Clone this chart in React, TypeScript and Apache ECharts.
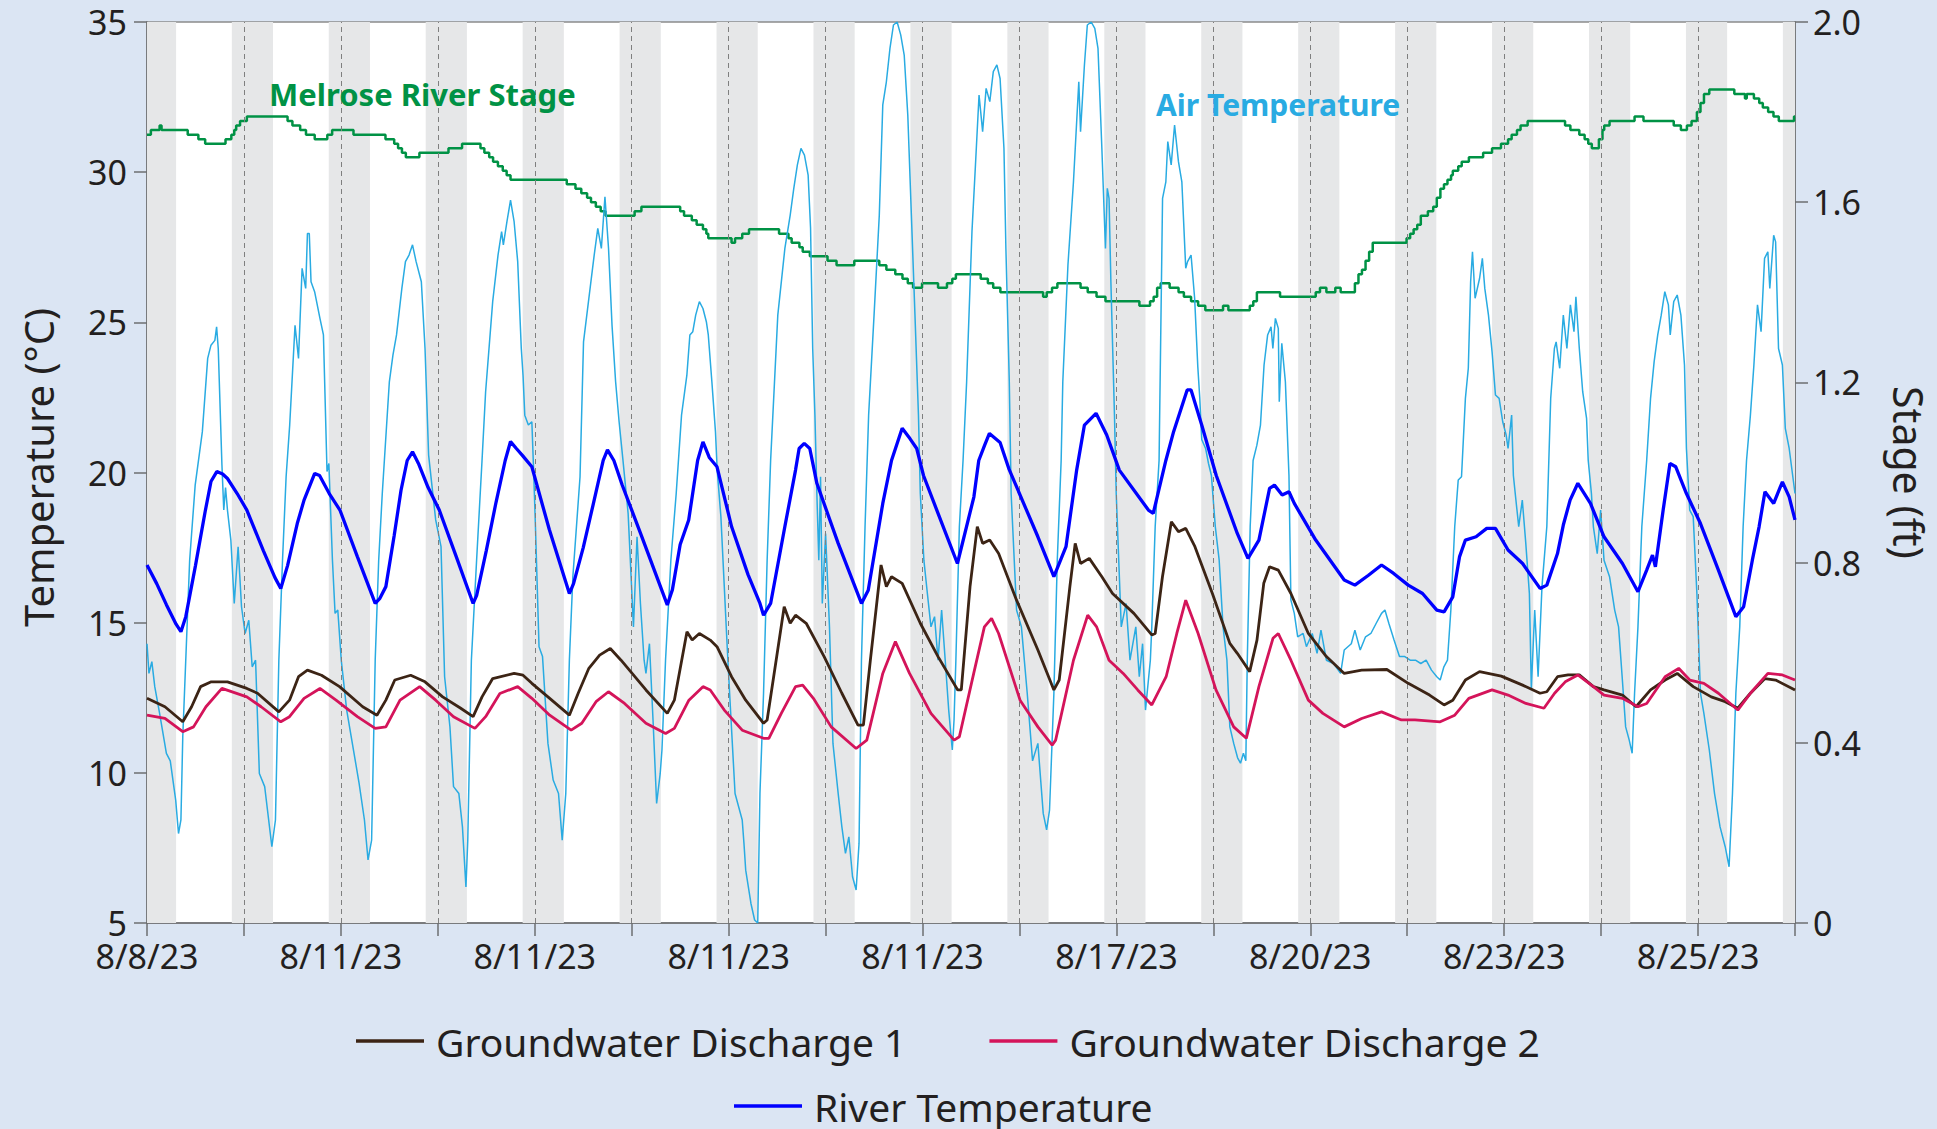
import React, { useEffect, useRef } from "react";
import * as echarts from "echarts";

const FONT = "'Noto Sans', 'Open Sans', sans-serif";
const TEXT = "#231f20";
const AXIS = "#6d6e71";

// x axis: days since 8/8/23 00:00
const X_LABELS = ["8/8/23", "8/11/23", "8/11/23", "8/11/23", "8/11/23", "8/17/23", "8/20/23", "8/23/23", "8/25/23"];
const MIDNIGHTS = [1, 2, 3, 4, 5, 6, 7, 8, 9, 10, 11, 12, 13, 14, 15, 16];
const NIGHTS: [number, number][] = [
  [0, 0.3], [0.875, 1.3], [1.875, 2.3], [2.875, 3.3], [3.875, 4.3], [4.875, 5.3],
  [5.875, 6.3], [6.875, 7.3], [7.875, 8.3], [8.875, 9.3], [9.875, 10.3], [10.875, 11.3],
  [11.875, 12.3], [12.875, 13.3], [13.875, 14.3], [14.875, 15.3], [15.875, 16.3], [16.875, 17],
];

// Melrose River Stage (ft), step changes [day, stage]
const STAGE: [number, number][] = [
  [0, 1.75], [0.04, 1.76], [0.13, 1.77], [0.15, 1.76], [0.42, 1.75], [0.53, 1.74], [0.6, 1.73], [0.81, 1.74],
  [0.87, 1.75], [0.9, 1.76], [0.92, 1.77], [0.96, 1.78], [1.03, 1.79], [1.45, 1.78], [1.5, 1.77], [1.58, 1.76],
  [1.64, 1.75], [1.73, 1.74], [1.86, 1.75], [1.91, 1.76], [2.13, 1.75], [2.46, 1.74], [2.55, 1.73], [2.59, 1.72],
  [2.63, 1.71], [2.67, 1.7], [2.81, 1.71], [3.11, 1.72], [3.25, 1.73], [3.44, 1.72], [3.48, 1.71], [3.53, 1.7],
  [3.57, 1.69], [3.62, 1.68], [3.67, 1.67], [3.71, 1.66], [3.75, 1.65], [4.33, 1.64], [4.42, 1.63], [4.48, 1.62],
  [4.54, 1.61], [4.58, 1.6], [4.63, 1.59], [4.68, 1.58], [4.73, 1.57], [5.03, 1.58], [5.1, 1.59], [5.5, 1.58],
  [5.54, 1.57], [5.62, 1.56], [5.67, 1.55], [5.735, 1.54], [5.77, 1.53], [5.79, 1.52], [6.03, 1.51], [6.066, 1.52],
  [6.14, 1.53], [6.21, 1.54], [6.52, 1.53], [6.617, 1.52], [6.65, 1.51], [6.73, 1.5], [6.764, 1.49], [6.838, 1.48],
  [7.02, 1.47], [7.113, 1.46], [7.296, 1.47], [7.554, 1.46], [7.627, 1.45], [7.719, 1.44], [7.793, 1.43], [7.848, 1.42],
  [7.903, 1.41], [7.995, 1.42], [8.16, 1.41], [8.252, 1.42], [8.307, 1.43], [8.344, 1.44], [8.6, 1.43], [8.674, 1.42],
  [8.729, 1.41], [8.803, 1.4], [9.244, 1.39], [9.281, 1.4], [9.336, 1.41], [9.391, 1.42], [9.63, 1.41], [9.704, 1.4],
  [9.795, 1.39], [9.887, 1.38], [10.237, 1.37], [10.347, 1.38], [10.384, 1.39], [10.42, 1.41], [10.457, 1.42],
  [10.549, 1.41], [10.641, 1.4], [10.696, 1.39], [10.77, 1.38], [10.843, 1.37], [10.917, 1.36], [11.1, 1.37],
  [11.155, 1.36], [11.376, 1.37], [11.412, 1.38], [11.449, 1.4], [11.688, 1.39], [12.056, 1.4], [12.1, 1.41],
  [12.166, 1.4], [12.258, 1.41], [12.313, 1.4], [12.46, 1.42], [12.497, 1.44], [12.533, 1.45], [12.57, 1.47],
  [12.607, 1.49], [12.644, 1.51], [12.993, 1.52], [13.03, 1.53], [13.066, 1.54], [13.103, 1.55], [13.14, 1.57],
  [13.213, 1.58], [13.268, 1.59], [13.305, 1.61], [13.342, 1.63], [13.379, 1.64], [13.415, 1.65], [13.452, 1.66],
  [13.47, 1.67], [13.526, 1.68], [13.562, 1.69], [13.636, 1.7], [13.783, 1.71], [13.875, 1.72], [13.967, 1.73],
  [14.04, 1.74], [14.077, 1.75], [14.132, 1.76], [14.169, 1.77], [14.242, 1.78], [14.628, 1.77], [14.683, 1.76],
  [14.775, 1.75], [14.83, 1.74], [14.867, 1.73], [14.904, 1.72], [14.977, 1.74], [15.014, 1.76], [15.032, 1.77],
  [15.087, 1.78], [15.345, 1.79], [15.437, 1.78], [15.749, 1.77], [15.823, 1.76], [15.885, 1.77], [15.933, 1.78],
  [15.988, 1.8], [16.025, 1.82], [16.061, 1.84], [16.116, 1.85], [16.374, 1.84], [16.484, 1.83], [16.502, 1.84],
  [16.576, 1.83], [16.631, 1.82], [16.668, 1.81], [16.723, 1.8], [16.778, 1.79], [16.833, 1.78], [16.99, 1.79], [17, 1.79],
];

// Air temperature (°C)
const AIR: [number, number][] = [
  [0, 14.3], [0.02, 13.31], [0.05, 13.7], [0.08, 12.87], [0.13, 11.98], [0.2, 10.65], [0.24, 10.4], [0.296, 9.09],
  [0.325, 7.98], [0.35, 8.43], [0.369, 11.2], [0.44, 17.08], [0.497, 19.58], [0.571, 21.36], [0.626, 23.8], [0.66, 24.24],
  [0.7, 24.4], [0.718, 24.85], [0.735, 24.13], [0.773, 20.25], [0.792, 18.75], [0.81, 19.5], [0.83, 18.75], [0.865, 17.75],
  [0.9, 15.64], [0.94, 17.53], [0.975, 15.53], [1.012, 14.64], [1.05, 15.08], [1.085, 13.53], [1.12, 13.75], [1.159, 9.98],
  [1.214, 9.54], [1.288, 7.54], [1.325, 8.43], [1.36, 13.75], [1.398, 17.08], [1.435, 19.86], [1.472, 21.58], [1.527, 24.9],
  [1.563, 23.8], [1.6, 26.8], [1.637, 26.13], [1.655, 27.96], [1.674, 27.96], [1.692, 26.35], [1.729, 26.02], [1.784, 25.13],
  [1.82, 24.58], [1.857, 20.03], [1.876, 20.3], [1.913, 17.08], [1.94, 15.31], [1.968, 15.42], [2.004, 13.75], [2.06, 12.09],
  [2.13, 10.76], [2.188, 9.65], [2.243, 8.43], [2.28, 7.1], [2.317, 7.76], [2.354, 13.75], [2.39, 17.08], [2.427, 19.3],
  [2.5, 23.02], [2.537, 23.91], [2.574, 24.58], [2.629, 26.13], [2.666, 27.02], [2.703, 27.24], [2.739, 27.58], [2.776, 27.02],
  [2.83, 26.35], [2.868, 24.13], [2.905, 20.58], [2.978, 18.42], [3.033, 17.53], [3.07, 13.2], [3.125, 11.53], [3.162, 9.54],
  [3.217, 9.31], [3.254, 8.2], [3.29, 6.2], [3.309, 7.76], [3.346, 13.75], [3.4, 17.08], [3.456, 20.4], [3.493, 22.69],
  [3.566, 25.69], [3.621, 27.24], [3.658, 28.02], [3.676, 27.58], [3.713, 28.35], [3.75, 29.07], [3.787, 28.35], [3.824, 27.02],
  [3.861, 24.13], [3.879, 23.24], [3.897, 21.91], [3.934, 21.58], [3.97, 21.69], [3.99, 19.9], [4.007, 18.2], [4.044, 14.2],
  [4.08, 13.87], [4.136, 10.98], [4.19, 9.76], [4.245, 9.31], [4.283, 7.76], [4.32, 9.31], [4.357, 13.75], [4.393, 16.53],
  [4.467, 19.86], [4.503, 24.35], [4.558, 25.8], [4.613, 27.24], [4.65, 28.13], [4.687, 27.46], [4.724, 29.18], [4.761, 27.46],
  [4.797, 24.9], [4.834, 23.02], [4.87, 21.69], [4.908, 20.47], [4.963, 18.64], [5.018, 14.86], [5.055, 17.86], [5.09, 15.64],
  [5.128, 13.75], [5.147, 13.31], [5.183, 14.3], [5.22, 11.76], [5.257, 8.98], [5.294, 9.98], [5.312, 10.76], [5.349, 13.75],
  [5.404, 17.08], [5.459, 19.3], [5.514, 21.91], [5.569, 23.24], [5.6, 24.58], [5.63, 24.69], [5.66, 25.24], [5.698, 25.69],
  [5.735, 25.46], [5.77, 25.02], [5.79, 24.58], [5.827, 23.02], [5.864, 21.36], [5.882, 20.08], [5.92, 18.53], [5.955, 16.2],
  [5.985, 14.2], [6.01, 12.65], [6.066, 9.31], [6.14, 8.43], [6.158, 7.65], [6.176, 6.76], [6.23, 5.65], [6.268, 5.1],
  [6.3, 5.0], [6.323, 9.31], [6.36, 12.65], [6.397, 17.08], [6.433, 20.4], [6.507, 25.24], [6.58, 27.46], [6.635, 28.57],
  [6.672, 29.46], [6.709, 30.24], [6.746, 30.79], [6.782, 30.57], [6.82, 29.9], [6.845, 28.13], [6.867, 24.13], [6.89, 21.91],
  [6.91, 19.3], [6.93, 17.08], [6.948, 19.86], [6.966, 15.64], [7.0, 17.97], [7.04, 14.86], [7.076, 10.98], [7.13, 9.31],
  [7.168, 8.2], [7.205, 7.32], [7.24, 7.87], [7.278, 6.54], [7.315, 6.1], [7.345, 7.65], [7.37, 13.75], [7.407, 18.2],
  [7.444, 21.91], [7.5, 25.24], [7.554, 28.57], [7.59, 32.24], [7.627, 33.01], [7.664, 34.12], [7.7, 34.9], [7.738, 35.0],
  [7.775, 34.57], [7.811, 33.9], [7.848, 31.9], [7.885, 28.57], [7.922, 25.24], [7.958, 21.91], [7.977, 19.3], [8.014, 17.08],
  [8.05, 15.97], [8.087, 14.86], [8.124, 15.2], [8.16, 13.75], [8.197, 15.42], [8.234, 13.75], [8.27, 12.09], [8.307, 10.76],
  [8.325, 11.76], [8.344, 13.75], [8.38, 18.2], [8.418, 20.4], [8.455, 23.02], [8.51, 28.02], [8.546, 30.24], [8.583, 32.57],
  [8.62, 31.35], [8.656, 32.79], [8.694, 32.35], [8.73, 33.35], [8.767, 33.57], [8.8, 33.12], [8.84, 30.79], [8.86, 27.46],
  [8.895, 23.02], [8.914, 19.3], [8.97, 15.42], [9.02, 14.86], [9.08, 12.65], [9.135, 10.4], [9.19, 10.98], [9.245, 8.65],
  [9.28, 8.1], [9.31, 8.76], [9.355, 12.65], [9.39, 17.08], [9.43, 20.4], [9.447, 23.02], [9.5, 26.91], [9.557, 29.68],
  [9.612, 33.01], [9.63, 31.35], [9.67, 33.57], [9.7, 34.9], [9.74, 35.0], [9.777, 34.79], [9.81, 34.12], [9.85, 30.79],
  [9.887, 27.46], [9.906, 29.46], [9.924, 29.13], [9.943, 26.35], [9.98, 21.91], [9.998, 19.3], [10.05, 14.86], [10.1, 15.64],
  [10.14, 13.75], [10.2, 14.86], [10.236, 13.2], [10.27, 14.3], [10.3, 12.09], [10.35, 13.75], [10.365, 14.86], [10.4, 18.2],
  [10.44, 20.4], [10.476, 29.13], [10.51, 29.68], [10.53, 31.02], [10.565, 30.24], [10.6, 31.57], [10.64, 30.35], [10.675, 29.68],
  [10.715, 26.8], [10.734, 27.02], [10.77, 27.24], [10.807, 25.8], [10.84, 23.5], [10.86, 22.47], [10.88, 21.1], [10.92, 20.8],
  [10.95, 20.3], [10.98, 19.9], [11.02, 18.2], [11.06, 17.08], [11.1, 14.86], [11.14, 13.75], [11.17, 11.53], [11.21, 10.98],
  [11.25, 10.5], [11.28, 10.32], [11.31, 10.65], [11.335, 10.4], [11.35, 13.75], [11.38, 18.2], [11.41, 20.4], [11.449, 20.91],
  [11.486, 21.58], [11.523, 23.58], [11.56, 24.58], [11.595, 24.85], [11.614, 24.13], [11.64, 25.13], [11.67, 24.8], [11.68, 22.36],
  [11.706, 24.3], [11.743, 23.02], [11.78, 19.9], [11.8, 15.75], [11.835, 15.31], [11.87, 14.53], [11.926, 14.64], [11.96, 14.2],
  [12.02, 14.64], [12.07, 13.98], [12.11, 14.75], [12.166, 13.75], [12.24, 13.64], [12.313, 13.31], [12.35, 14.09], [12.423, 14.3],
  [12.46, 14.75], [12.515, 14.09], [12.57, 14.53], [12.625, 14.64], [12.68, 14.98], [12.735, 15.31], [12.77, 15.42], [12.81, 14.98],
  [12.864, 14.42], [12.92, 13.87], [12.975, 13.87], [13.03, 13.75], [13.085, 13.75], [13.14, 13.64], [13.195, 13.75], [13.25, 13.42],
  [13.305, 13.2], [13.34, 13.09], [13.378, 13.53], [13.415, 13.75], [13.45, 15.42], [13.49, 18.2], [13.526, 19.75], [13.56, 19.86],
  [13.6, 22.47], [13.63, 23.47], [13.654, 26.35], [13.673, 27.35], [13.7, 25.8], [13.746, 26.46], [13.775, 27.13], [13.8, 26.13],
  [13.838, 25.24], [13.875, 24.02], [13.91, 22.58], [13.948, 22.47], [13.985, 21.69], [14.02, 21.25], [14.04, 20.8], [14.077, 21.91],
  [14.095, 19.9], [14.114, 19.3], [14.15, 18.2], [14.187, 19.08], [14.223, 17.64], [14.26, 15.97], [14.28, 12.8], [14.315, 15.42],
  [14.35, 13.2], [14.39, 16.2], [14.44, 18.2], [14.48, 22.47], [14.518, 24.13], [14.536, 24.35], [14.573, 23.47], [14.61, 25.24],
  [14.647, 24.13], [14.683, 25.58], [14.72, 24.69], [14.74, 25.85], [14.775, 24.13], [14.81, 22.69], [14.85, 21.8], [14.867, 20.4],
  [14.9, 19.3], [14.92, 18.2], [14.96, 17.3], [14.995, 18.75], [15.03, 17.08], [15.087, 16.53], [15.14, 15.42], [15.18, 14.86],
  [15.217, 13.2], [15.253, 11.53], [15.29, 11.09], [15.32, 10.65], [15.345, 12.65], [15.38, 14.86], [15.42, 18.2], [15.47, 20.4],
  [15.51, 22.47], [15.547, 23.69], [15.584, 24.58], [15.62, 25.24], [15.657, 26.02], [15.694, 25.58], [15.713, 24.58], [15.749, 25.69],
  [15.785, 25.91], [15.823, 25.24], [15.86, 23.58], [15.88, 20.8], [15.914, 18.75], [15.95, 18.53], [15.988, 15.97], [16.025, 12.65],
  [16.06, 11.98], [16.116, 10.76], [16.17, 9.31], [16.227, 8.2], [16.28, 7.54], [16.32, 6.87], [16.355, 9.31], [16.39, 12.65],
  [16.43, 14.86], [16.465, 18.2], [16.5, 20.4], [16.54, 21.91], [16.576, 23.58], [16.613, 25.58], [16.65, 24.69], [16.686, 27.13],
  [16.72, 27.35], [16.74, 26.13], [16.78, 27.9], [16.8, 27.68], [16.83, 24.13], [16.87, 23.58], [16.9, 21.47], [16.94, 20.8],
  [16.96, 20.3], [17, 19.3],
];

// River temperature (°C)
const RIVER: [number, number][] = [
  [0, 16.92], [0.1, 16.3], [0.2, 15.6], [0.3, 14.95], [0.35, 14.7], [0.4, 15.2], [0.5, 16.9], [0.6, 18.7], [0.66, 19.7],
  [0.72, 20.03], [0.78, 19.95], [0.83, 19.8], [0.93, 19.3], [1.03, 18.75], [1.2, 17.4], [1.32, 16.5], [1.38, 16.14],
  [1.45, 16.9], [1.55, 18.3], [1.62, 19.08], [1.73, 19.97], [1.78, 19.9], [1.88, 19.3], [1.99, 18.75], [2.17, 17.2],
  [2.354, 15.64], [2.4, 15.8], [2.464, 16.2], [2.55, 17.9], [2.62, 19.4], [2.684, 20.4], [2.739, 20.69], [2.8, 20.3],
  [2.9, 19.5], [3.015, 18.75], [3.19, 17.2], [3.364, 15.64], [3.4, 15.9], [3.5, 17.4], [3.6, 19.0], [3.695, 20.4],
  [3.75, 21.03], [3.81, 20.8], [3.87, 20.58], [3.97, 20.19], [4.15, 18.1], [4.357, 15.97], [4.4, 16.3], [4.5, 17.5],
  [4.6, 18.9], [4.706, 20.4], [4.75, 20.75], [4.816, 20.4], [4.9, 19.6], [5.1, 17.9], [5.367, 15.59], [5.42, 16.1],
  [5.5, 17.6], [5.588, 18.42], [5.68, 20.4], [5.735, 21.02], [5.8, 20.5], [5.88, 20.19], [6.03, 18.2], [6.2, 16.6],
  [6.323, 15.64], [6.36, 15.25], [6.433, 15.64], [6.58, 18.2], [6.69, 20.08], [6.727, 20.8], [6.78, 20.97], [6.837, 20.8],
  [6.91, 19.64], [7.13, 17.64], [7.37, 15.64], [7.44, 16.08], [7.59, 18.97], [7.68, 20.4], [7.79, 21.47], [7.87, 21.13],
  [7.94, 20.8], [8.01, 19.9], [8.16, 18.64], [8.36, 16.97], [8.53, 19.19], [8.58, 20.4], [8.64, 20.9], [8.69, 21.3],
  [8.8, 21.0], [8.89, 20.13], [9.19, 17.86], [9.355, 16.53], [9.48, 17.53], [9.59, 20.08], [9.67, 21.58], [9.79, 21.97],
  [9.9, 21.25], [10.03, 20.08], [10.33, 18.75], [10.38, 18.64], [10.51, 20.4], [10.59, 21.36], [10.73, 22.75], [10.77, 22.75],
  [10.88, 21.58], [11.03, 19.9], [11.247, 17.97], [11.357, 17.14], [11.47, 17.75], [11.58, 19.47], [11.63, 19.58], [11.71, 19.25],
  [11.78, 19.36], [11.835, 18.97], [12.056, 17.75], [12.35, 16.42], [12.46, 16.25], [12.6, 16.58], [12.735, 16.92], [12.86, 16.64],
  [13.01, 16.25], [13.158, 15.97], [13.305, 15.42], [13.38, 15.36], [13.47, 15.86], [13.54, 17.2], [13.6, 17.75], [13.71, 17.86],
  [13.82, 18.14], [13.91, 18.14], [14.04, 17.42], [14.19, 16.97], [14.37, 16.14], [14.44, 16.25], [14.55, 17.3], [14.61, 18.25],
  [14.68, 19.08], [14.76, 19.64], [14.89, 18.97], [15.03, 17.86], [15.22, 16.97], [15.38, 16.03], [15.47, 16.75], [15.53, 17.25],
  [15.56, 16.86], [15.64, 18.75], [15.71, 20.3], [15.77, 20.19], [15.88, 19.3], [16.025, 18.3], [16.21, 16.75], [16.39, 15.2],
  [16.47, 15.53], [16.56, 17.08], [16.63, 18.2], [16.69, 19.36], [16.78, 18.97], [16.87, 19.69], [16.94, 19.19], [17, 18.42],
];

// Groundwater Discharge 1 (°C)
const GW1: [number, number][] = [
  [0, 12.48], [0.185, 12.2], [0.369, 11.7], [0.46, 12.2], [0.553, 12.87], [0.663, 13.03], [0.83, 13.03], [1.03, 12.81],
  [1.14, 12.65], [1.36, 12.03], [1.47, 12.42], [1.563, 13.2], [1.655, 13.42], [1.8, 13.25], [1.986, 12.87], [2.225, 12.2],
  [2.372, 11.92], [2.464, 12.42], [2.556, 13.09], [2.72, 13.25], [2.868, 13.03], [3.05, 12.53], [3.236, 12.15], [3.364, 11.87],
  [3.456, 12.53], [3.566, 13.14], [3.787, 13.31], [3.879, 13.25], [3.97, 12.98], [4.154, 12.48], [4.357, 11.92], [4.448, 12.65],
  [4.558, 13.48], [4.669, 13.92], [4.779, 14.14], [4.89, 13.75], [5.147, 12.76], [5.367, 11.98], [5.44, 12.42], [5.57, 14.7],
  [5.624, 14.42], [5.698, 14.64], [5.81, 14.42], [5.88, 14.2], [6.03, 13.2], [6.176, 12.42], [6.36, 11.65], [6.397, 11.76],
  [6.49, 13.75], [6.573, 15.53], [6.635, 14.98], [6.69, 15.25], [6.8, 14.98], [6.985, 13.87], [7.168, 12.65], [7.334, 11.59],
  [7.39, 11.59], [7.462, 13.75], [7.572, 16.92], [7.627, 16.2], [7.68, 16.53], [7.79, 16.31], [7.977, 14.98], [8.16, 13.87],
  [8.363, 12.76], [8.4, 12.76], [8.49, 16.2], [8.565, 18.2], [8.62, 17.64], [8.693, 17.75], [8.785, 17.3], [8.97, 15.75],
  [9.19, 14.09], [9.355, 12.76], [9.41, 13.09], [9.52, 16.2], [9.575, 17.64], [9.63, 16.97], [9.72, 17.14], [9.85, 16.53],
  [9.96, 15.97], [10.18, 15.31], [10.365, 14.59], [10.4, 14.64], [10.475, 16.53], [10.567, 18.36], [10.64, 18.03], [10.715, 18.14],
  [10.81, 17.53], [10.99, 15.97], [11.17, 14.31], [11.247, 13.98], [11.375, 13.37], [11.45, 14.42], [11.52, 16.31], [11.58, 16.86],
  [11.67, 16.75], [11.8, 15.97], [11.98, 14.64], [12.166, 13.87], [12.35, 13.31], [12.53, 13.42], [12.79, 13.44], [13.01, 12.98],
  [13.23, 12.59], [13.38, 12.26], [13.47, 12.42], [13.6, 13.09], [13.746, 13.37], [13.97, 13.22], [14.19, 12.92], [14.37, 12.65],
  [14.44, 12.7], [14.55, 13.2], [14.66, 13.26], [14.775, 13.26], [14.92, 12.87], [15.03, 12.76], [15.22, 12.59], [15.36, 12.2],
  [15.51, 12.76], [15.66, 13.09], [15.785, 13.31], [15.95, 12.87], [16.136, 12.53], [16.28, 12.37], [16.41, 12.15], [16.54, 12.65],
  [16.69, 13.14], [16.8, 13.09], [17, 12.76],
];

// Groundwater Discharge 2 (°C)
const GW2: [number, number][] = [
  [0, 11.92], [0.185, 11.81], [0.369, 11.37], [0.48, 11.53], [0.608, 12.2], [0.773, 12.81], [1.03, 12.53], [1.177, 12.2],
  [1.38, 11.7], [1.47, 11.87], [1.62, 12.48], [1.784, 12.81], [1.95, 12.42], [2.17, 11.87], [2.354, 11.48], [2.464, 11.53],
  [2.61, 12.42], [2.813, 12.87], [2.978, 12.42], [3.162, 11.87], [3.383, 11.48], [3.493, 11.87], [3.64, 12.64], [3.824, 12.87],
  [3.97, 12.48], [4.154, 11.92], [4.375, 11.42], [4.485, 11.65], [4.632, 12.37], [4.76, 12.7], [4.926, 12.31], [5.147, 11.65],
  [5.35, 11.31], [5.44, 11.48], [5.59, 12.42], [5.735, 12.87], [5.81, 12.76], [5.955, 12.09], [6.14, 11.42], [6.36, 11.15],
  [6.415, 11.15], [6.543, 11.98], [6.69, 12.87], [6.764, 12.92], [6.874, 12.48], [7.058, 11.53], [7.315, 10.81], [7.425, 11.09],
  [7.59, 13.31], [7.72, 14.37], [7.866, 13.31], [8.087, 11.98], [8.326, 11.09], [8.38, 11.2], [8.528, 13.31], [8.638, 14.86],
  [8.712, 15.14], [8.785, 14.64], [9.006, 12.42], [9.19, 11.53], [9.337, 10.92], [9.373, 11.09], [9.557, 13.75], [9.704, 15.25],
  [9.796, 14.86], [9.924, 13.75], [10.07, 13.31], [10.22, 12.76], [10.365, 12.26], [10.513, 13.2], [10.623, 14.64], [10.715, 15.75],
  [10.843, 14.64], [11.027, 12.76], [11.21, 11.53], [11.34, 11.15], [11.47, 12.87], [11.615, 14.48], [11.67, 14.64], [11.8, 13.75],
  [11.98, 12.42], [12.13, 11.98], [12.35, 11.53], [12.53, 11.81], [12.735, 12.03], [12.94, 11.76], [13.08, 11.76], [13.34, 11.7],
  [13.49, 11.92], [13.635, 12.48], [13.875, 12.76], [14.04, 12.59], [14.224, 12.31], [14.41, 12.15], [14.52, 12.65], [14.63, 13.03],
  [14.76, 13.26], [14.92, 12.87], [15.03, 12.59], [15.22, 12.48], [15.38, 12.2], [15.47, 12.31], [15.66, 13.2], [15.8, 13.48],
  [15.914, 13.09], [16.06, 12.98], [16.21, 12.65], [16.41, 12.09], [16.54, 12.65], [16.72, 13.31], [16.87, 13.26], [17, 13.09],
];

const COLORS = {
  air: "#29abe2",
  river: "#0000ff",
  gw1: "#3c2415",
  gw2: "#d4145a",
  stage: "#009245",
  night: "#e6e7e8",
};

export default function App() {
  const ref = useRef<HTMLDivElement>(null);

  useEffect(() => {
    if (!ref.current) return;
    const chart = echarts.init(ref.current, undefined, { renderer: "svg" });

    const axisLine = { show: true, lineStyle: { color: AXIS, width: 1.5 } };
    const axisTick = { show: true, length: 13, lineStyle: { color: AXIS, width: 1.5 } };

    const lineSeries = (name: string, data: [number, number][], color: string, width: number, extra: any = {}) => ({
      name,
      type: "line",
      data,
      showSymbol: false,
      symbol: "none",
      color,
      lineStyle: { color, width },
      itemStyle: { color },
      emphasis: { disabled: true },
      silent: true,
      ...extra,
    });

    const legendCommon = {
      orient: "horizontal",
      icon: "rect",
      itemWidth: 68,
      itemHeight: 3.5,
      itemGap: 83,
      padding: 0,
      selectedMode: false,
      textStyle: { fontSize: 39, lineHeight: 40, color: TEXT, fontFamily: FONT, padding: [0, 0, 0, 7] },
    };

    chart.setOption({
      animation: false,
      backgroundColor: "#dbe5f3",
      textStyle: { fontFamily: FONT },
      grid: {
        left: 147,
        right: 138,
        top: 22,
        bottom: 206,
        show: true,
        backgroundColor: "#ffffff",
        borderColor: "#8c8c8c",
        borderWidth: 1.5,
      },
      legend: [
        { ...legendCommon, data: ["Groundwater Discharge 1", "Groundwater Discharge 2"], left: 356, top: 1021 },
        { ...legendCommon, data: ["River Temperature"], left: 734, top: 1086 },
      ],
      xAxis: {
        type: "value",
        min: 0,
        max: 17,
        interval: 1,
        axisLine,
        axisTick,
        splitLine: { show: false },
        axisLabel: {
          fontSize: 34,
          lineHeight: 30,
          color: TEXT,
          fontFamily: FONT,
          margin: 18,
          formatter: (v: number) => (Math.round(v) % 2 === 0 ? X_LABELS[Math.round(v) / 2] ?? "" : ""),
        },
      },
      yAxis: [
        {
          type: "value",
          min: 5,
          max: 35,
          interval: 5,
          name: "Temperature (°C)",
          nameLocation: "middle",
          nameGap: 89,
          nameTextStyle: { fontSize: 40, color: TEXT, fontFamily: FONT, padding: [0, 0, 0, 10] },
          axisLine,
          axisTick,
          splitLine: { show: false },
          axisLabel: { fontSize: 34, lineHeight: 30, color: TEXT, fontFamily: FONT, margin: 20 },
        },
        {
          type: "value",
          min: 0,
          max: 2,
          interval: 0.4,
          position: "right",
          name: "Stage (ft)",
          nameLocation: "middle",
          nameRotate: -90,
          nameGap: 93,
          nameTextStyle: { fontSize: 41, color: TEXT, fontFamily: FONT },
          axisLine,
          axisTick,
          splitLine: { show: false },
          axisLabel: {
            fontSize: 34,
            lineHeight: 30,
            color: TEXT,
            fontFamily: FONT,
            margin: 18,
            formatter: (v: number) => (Math.abs(v) < 1e-9 ? "0" : v.toFixed(1)),
          },
        },
      ],
      graphic: [
        {
          type: "text",
          left: 269,
          top: 78,
          silent: true,
          style: { text: "Melrose River Stage", fill: COLORS.stage, fontSize: 31, fontWeight: "bold", fontFamily: FONT },
          z: 100,
        },
        {
          type: "text",
          left: 1156,
          top: 89,
          silent: true,
          style: { text: "Air Temperature", fill: COLORS.air, fontSize: 30, fontWeight: "bold", fontFamily: FONT },
          z: 100,
        },
      ],
      series: [
        {
          name: "nights",
          type: "line",
          data: [],
          silent: true,
          z: 1,
          markArea: {
            silent: true,
            itemStyle: { color: COLORS.night },
            data: NIGHTS.map(([a, b]) => [{ xAxis: a }, { xAxis: b }]),
          },
          markLine: {
            silent: true,
            symbol: ["none", "none"],
            label: { show: false },
            lineStyle: { color: "#7f7f7f", width: 1, type: [5, 4] },
            data: MIDNIGHTS.map((d) => ({ xAxis: d })),
          },
        },
        lineSeries("Melrose River Stage", STAGE, COLORS.stage, 2.5, { yAxisIndex: 1, step: "end", z: 3 }),
        lineSeries("Air Temperature", AIR, COLORS.air, 1.5, { z: 4 }),
        lineSeries("Groundwater Discharge 1", GW1, COLORS.gw1, 2.8, { z: 5 }),
        lineSeries("Groundwater Discharge 2", GW2, COLORS.gw2, 2.8, { z: 6 }),
        lineSeries("River Temperature", RIVER, COLORS.river, 3.3, { z: 7 }),
      ],
    });

    return () => chart.dispose();
  }, []);

  return <div ref={ref} style={{ position: "fixed", left: 0, top: 0, width: 1937, height: 1129 }} />;
}
